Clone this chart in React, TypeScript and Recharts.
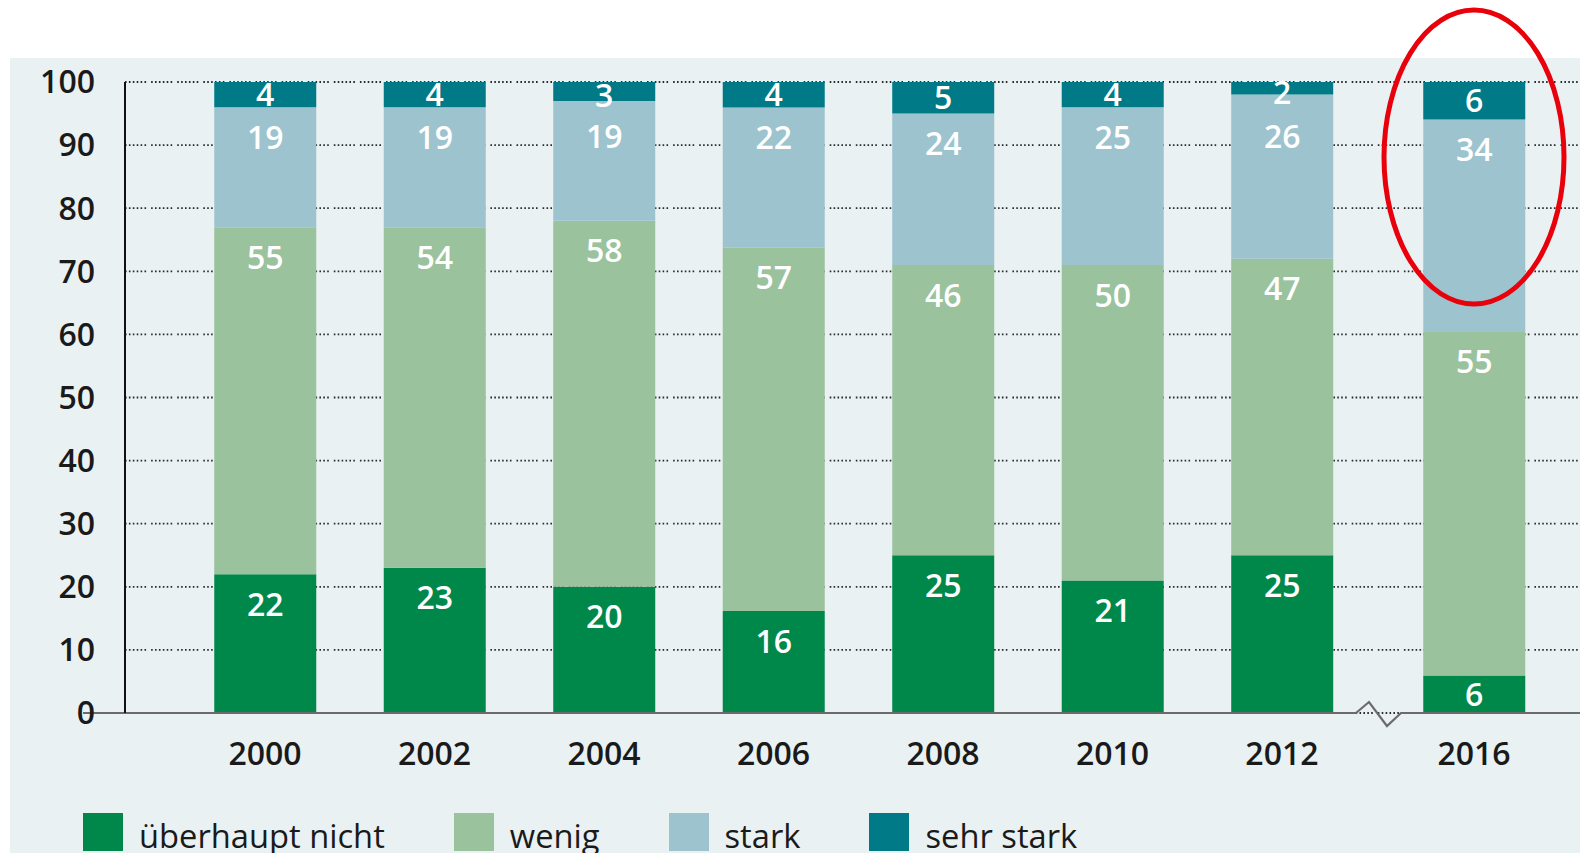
import React from 'react';
import {
  BarChart,
  Bar,
  XAxis,
  YAxis,
  CartesianGrid,
  LabelList,
  ReferenceLine,
  ReferenceDot,
  Legend,
} from 'recharts';

// ---------- data ----------
const years = ['2000', '2002', '2004', '2006', '2008', '2010', '2012', '2016'];
const ueberhauptNicht = [22, 23, 20, 16, 25, 21, 25, 6];
const wenig = [55, 54, 58, 57, 46, 50, 47, 55];
const stark = [19, 19, 19, 22, 24, 25, 26, 34];
const sehrStark = [4, 4, 3, 4, 5, 4, 2, 6];
const yTickLabels = [0, 10, 20, 30, 40, 50, 60, 70, 80, 90, 100];
const seriesNames = ['überhaupt nicht', 'wenig', 'stark', 'sehr stark'];

// ---------- layout ----------
const BREAK_AFTER = 6; // axis break between 2012 and 2016
const BREAK_GAP = 1.133; // slot width after the break, relative to a normal slot
const slotOf = (i: number) => (i <= BREAK_AFTER ? i : i - 1 + BREAK_GAP);
const highlightIndex = 7;
const MARGIN_TOP = 82;

const COLORS = ['#00884b', '#9ac29d', '#9dc3ce', '#007a87'];
const FONT = '"Open Sans", "Noto Sans", sans-serif';

const rows = years.map((y, i) => ({
  year: y,
  pos: slotOf(i),
  u: ueberhauptNicht[i],
  w: wenig[i],
  s: stark[i],
  ss: sehrStark[i],
}));
const slotTicks = rows.map((r) => r.pos);
const yearOfSlot = (p: number) => {
  const r = rows.find((row) => Math.abs(row.pos - p) < 1e-6);
  return r ? r.year : '';
};

const renderSegLabel = (props: any) => {
  const { x, y, width, height, value } = props;
  const h = Math.abs(Number(height));
  const top = Math.min(Number(y), Number(y) + Number(height));
  const cy = h < 70 ? top + h / 2 + (h < 22 ? 4 : 0) : Math.max(top + 30, MARGIN_TOP + 54);
  return (
    <text
      x={Number(x) + Number(width) / 2}
      y={cy}
      dy="0.36em"
      textAnchor="middle"
      fill="#ffffff"
      fontSize={32}
      fontWeight={600}
      fontFamily={FONT}
    >
      {value}
    </text>
  );
};

const BaseLine = (props: any) => {
  const { x1, x2, y1 } = props;
  const X1 = Number(x1);
  const X2 = Number(x2);
  const Y = Number(y1);
  const dMin = slotTicks[0];
  const dMax = slotTicks[slotTicks.length - 1];
  const padL = 140;
  const padR = 106;
  const mid = (slotOf(BREAK_AFTER) + slotOf(BREAK_AFTER + 1)) / 2;
  const bx = X1 + padL + ((mid - dMin) / (dMax - dMin)) * (X2 - X1 - padL - padR);
  const d = `M${X1 - 42},${Y} L${bx - 22},${Y} L${bx - 9},${Y - 11} L${bx + 9},${Y + 13} L${bx + 23},${Y} L${X2},${Y}`;
  return <path d={d} fill="none" stroke="#6b6b6b" strokeWidth={2.2} />;
};

const Ellipse = (props: any) => {
  const { cx, cy } = props;
  return (
    <ellipse cx={cx} cy={cy} rx={90} ry={147} fill="none" stroke="#e8000b" strokeWidth={5} />
  );
};

const LegendContent = (props: any) => {
  const payload = [...(props.payload || [])].sort(
    (a: any, b: any) => seriesNames.indexOf(a.value) - seriesNames.indexOf(b.value)
  );
  return (
    <div style={{ display: 'flex', alignItems: 'flex-start', fontFamily: FONT }}>
      {payload.map((p: any, i: number) => (
        <div key={i} style={{ display: 'flex', alignItems: 'flex-start', marginRight: 69 }}>
          <div style={{ width: 40, height: 38, background: p.color, marginRight: 16 }} />
          <div style={{ fontSize: 32.7, lineHeight: '38px', color: '#1a1a1a', marginTop: 4, whiteSpace: 'nowrap' }}>
            {p.value}
          </div>
        </div>
      ))}
    </div>
  );
};

export default function App() {
  const keys = ['u', 'w', 's', 'ss'];
  return (
    <div
      style={{
        position: 'absolute',
        left: 0,
        top: 0,
        width: 1580,
        height: 853,
        background: '#ffffff',
        overflow: 'hidden',
      }}
    >
      <div
        style={{
          position: 'absolute',
          left: 10,
          top: 58,
          width: 1570,
          height: 795,
          background: '#e9f1f3',
        }}
      />
      <div style={{ position: 'absolute', left: 0, top: 0 }}>
        <BarChart
          width={1580}
          height={853}
          data={rows}
          stackOffset="expand"
          margin={{ top: MARGIN_TOP, right: 0, bottom: 110, left: 0 }}
        >
          <CartesianGrid
            vertical={false}
            stroke="#2a2a2a"
            strokeWidth={1.8}
            strokeDasharray="1.6 2.3 1.6 2.3 1.6 2.3 1.6 2.3 1.6 2.3 1.6 5"
          />
          <XAxis
            type="number"
            dataKey="pos"
            domain={['dataMin', 'dataMax']}
            padding={{ left: 140, right: 106 }}
            ticks={slotTicks}
            interval={0}
            tickFormatter={yearOfSlot}
            axisLine={false}
            tickLine={false}
            tickSize={0}
            tickMargin={29}
            height={30}
            tick={{ fontSize: 32, fontWeight: 600, fill: '#1a1a1a', fontFamily: FONT }}
          />
          <YAxis
            type="number"
            domain={[0, 1]}
            ticks={yTickLabels.map((t) => t / 100)}
            tickFormatter={(v: number) => String(Math.round(v * 100))}
            width={125}
            axisLine={{ stroke: '#111', strokeWidth: 2 }}
            tickLine={false}
            tickSize={0}
            tickMargin={30}
            tick={{ fontSize: 32, fontWeight: 600, fill: '#1a1a1a', fontFamily: FONT }}
          />
          {keys.map((k, i) => (
            <Bar
              key={k}
              dataKey={k}
              name={seriesNames[i]}
              stackId="a"
              fill={COLORS[i]}
              barSize={102}
              isAnimationActive={false}
            >
              <LabelList dataKey={k} content={renderSegLabel} />
            </Bar>
          ))}
          <ReferenceLine y={0} ifOverflow="visible" shape={BaseLine} />
          <ReferenceDot
            x={slotOf(highlightIndex)}
            y={0.881}
            ifOverflow="visible"
            shape={Ellipse}
          />
          <Legend
            layout="horizontal"
            verticalAlign="middle"
            align="center"
            wrapperStyle={{ left: 83, top: 813, width: 'auto', height: 'auto' }}
            content={LegendContent}
          />
        </BarChart>
      </div>
    </div>
  );
}
